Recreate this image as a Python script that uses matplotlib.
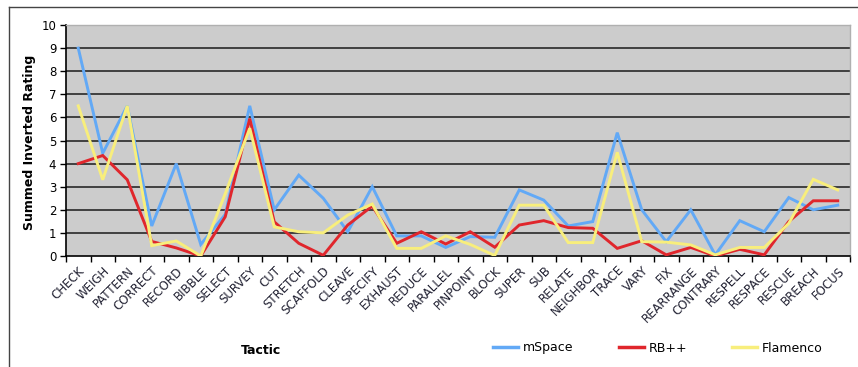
import matplotlib
matplotlib.use("Agg")
import matplotlib.pyplot as plt
from matplotlib.lines import Line2D

tactics = ["CHECK", "WEIGH", "PATTERN", "CORRECT", "RECORD", "BIBBLE", "SELECT",
           "SURVEY", "CUT", "STRETCH", "SCAFFOLD", "CLEAVE", "SPECIFY", "EXHAUST",
           "REDUCE", "PARALLEL", "PINPOINT", "BLOCK", "SUPER", "SUB", "RELATE",
           "NEIGHBOR", "TRACE", "VARY", "FIX", "REARRANGE", "CONTRARY", "RESPELL",
           "RESPACE", "RESCUE", "BREACH", "FOCUS"]

mspace = [9.0, 4.45, 6.5, 1.3, 4.0, 0.5, 1.8, 6.5, 2.0, 3.5, 2.5, 1.05, 3.0, 0.87,
          0.87, 0.37, 0.84, 0.81, 2.86, 2.42, 1.3, 1.49, 5.34, 2.0, 0.62, 2.0, 0.05,
          1.53, 1.05, 2.53, 2.0, 2.2]
rbpp = [4.0, 4.35, 3.3, 0.63, 0.35, 0.0, 1.7, 5.95, 1.48, 0.55, 0.03, 1.34, 2.16, 0.55,
        1.05, 0.52, 1.05, 0.38, 1.34, 1.53, 1.23, 1.2, 0.33, 0.66, 0.05, 0.37, 0.0,
        0.29, 0.05, 1.49, 2.39, 2.39]
flamenco = [6.5, 3.3, 6.5, 0.45, 0.65, 0.0, 2.7, 5.53, 1.26, 1.05, 1.0, 1.77, 2.25, 0.33,
            0.33, 0.87, 0.5, 0.02, 2.2, 2.2, 0.58, 0.58, 4.49, 0.62, 0.6, 0.48, 0.05,
            0.37, 0.37, 1.41, 3.32, 2.86]

blue = "#62a9f6"
red = "#e0262c"
yellow = "#f8ee7c"

fig = plt.figure(figsize=(8.58, 3.67), dpi=100)
W, H = 858, 367

# outer frame (top and left edges show)
fig.add_artist(Line2D([9 / W, 1.0], [1 - 7 / H, 1 - 7 / H], color="#444444", lw=1.0))
fig.add_artist(Line2D([9 / W, 9 / W], [0.0, 1 - 7 / H], color="#444444", lw=1.0))

ax = fig.add_axes([66 / W, 1 - 256 / H, (850 - 66) / W, (256 - 25) / H])
ax.set_facecolor("#cccccc")

x = list(range(len(tactics)))
for vals, col in [(mspace, blue), (rbpp, red), (flamenco, yellow)]:
    ax.plot(x, vals, color=col, lw=2.1, solid_joinstyle="miter", zorder=3)

ax.set_xlim(-0.5, len(tactics) - 0.5)
ax.set_ylim(0, 10)
ax.set_yticks(range(0, 11))
for yv in range(1, 10):
    ax.axhline(yv, color="#1a1a1a", lw=1.1, zorder=1)

# tick marks between categories, labels at the centres
ax.set_xticks([i - 0.5 for i in range(len(tactics) + 1)])
ax.set_xticklabels([])
ax.set_xticks(x, minor=True)
ax.set_xticklabels(tactics, minor=True, rotation=45, ha="right", va="top",
                   rotation_mode="anchor", fontsize=8.5, color="#222233")
ax.tick_params(axis="x", which="major", length=4, width=1, color="black", direction="out")
ax.tick_params(axis="x", which="minor", length=0, pad=6)
ax.tick_params(axis="y", length=4, width=1, direction="out", labelsize=8.5, pad=3)

for side in ["top", "right"]:
    ax.spines[side].set_color("#b0b0b0")
    ax.spines[side].set_linewidth(1.0)
for side in ["left", "bottom"]:
    ax.spines[side].set_color("black")
    ax.spines[side].set_linewidth(1.2)

fig.text(30 / W, 1 - 142 / H, "Summed Inverted Rating", rotation=90, ha="center",
         va="center", fontsize=9, fontweight="bold")
fig.text(261 / W, 1 - 350 / H, "Tactic", ha="center", va="center",
         fontsize=9, fontweight="bold")

handles = [Line2D([], [], color=blue, lw=2.5),
           Line2D([], [], color=red, lw=2.5),
           Line2D([], [], color=yellow, lw=2.5)]
fig.legend(handles, ["mSpace", "RB++", "Flamenco"], loc="center",
           bbox_to_anchor=(658 / W, 1 - 348 / H), ncol=3, frameon=False,
           fontsize=9, handlelength=2.0, handletextpad=0.4, columnspacing=3.6)

fig.savefig("out.png", dpi=100)
